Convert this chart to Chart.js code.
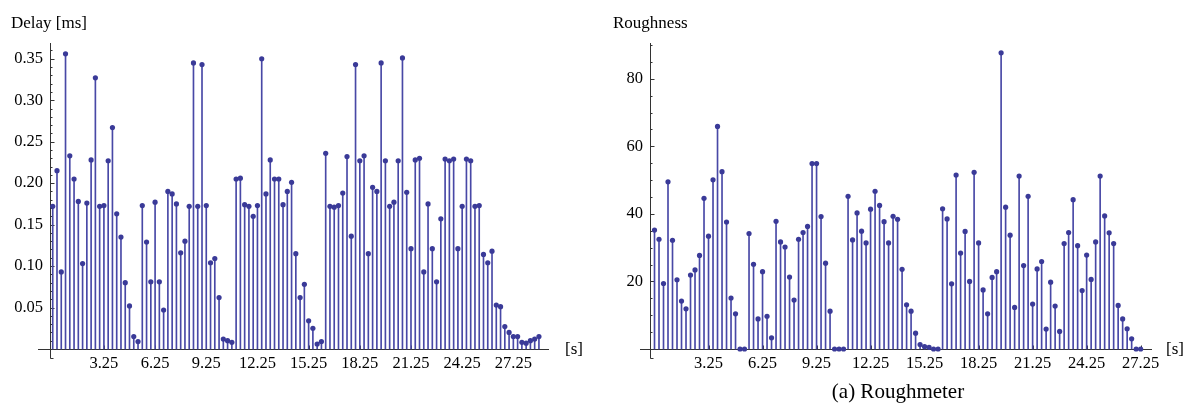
<!DOCTYPE html>
<html>
<head>
<meta charset="utf-8">
<script src="https://cdn.jsdelivr.net/npm/chart.js@4.4.0/dist/chart.umd.min.js"></script>
<style>
  body { margin: 0; background: #fff; width: 1184px; height: 403px; position: relative; overflow: hidden; font-family: "Liberation Serif", serif; color: #000; }
  .box { position: absolute; top: 0; width: 592px; height: 380px; }
  .txt { position: absolute; font-size: 17px; line-height: 1; white-space: nowrap; }
</style>
</head>
<body>
<div class="box" style="left:0"><canvas id="delay" width="592" height="380"></canvas></div>
<div class="box" style="left:592px"><canvas id="rough" width="592" height="380"></canvas></div>
<div class="txt" style="left:11px;top:14px">Delay [ms]</div>
<div class="txt" style="left:613px;top:14px">Roughness</div>
<div class="txt" style="left:565px;top:340px">[s]</div>
<div class="txt" style="left:1166px;top:340px">[s]</div>
<div class="txt" style="left:898px;top:381px;font-size:21px;transform:translateX(-50%)">(a) Roughmeter</div>
<script>
// samples every 0.25 s
const step = 0.25;

const delayValues = [
  0.172, 0.215, 0.093, 0.356, 0.233, 0.205, 0.178, 0.103, 0.176, 0.228,
  0.327, 0.172, 0.173, 0.227, 0.267, 0.163, 0.135, 0.080, 0.052, 0.015,
  0.009, 0.173, 0.129, 0.081, 0.177, 0.081, 0.047, 0.190, 0.187, 0.175,
  0.116, 0.130, 0.172, 0.345, 0.172, 0.343, 0.173, 0.104, 0.109, 0.062,
  0.012, 0.010, 0.008, 0.205, 0.206, 0.174, 0.172, 0.160, 0.173, 0.350,
  0.187, 0.228, 0.205, 0.205, 0.174, 0.190, 0.201, 0.115, 0.062, 0.078,
  0.034, 0.025, 0.006, 0.009, 0.236, 0.172, 0.171, 0.173, 0.188, 0.232,
  0.136, 0.343, 0.227, 0.233, 0.115, 0.195, 0.190, 0.345, 0.227, 0.172,
  0.177, 0.227, 0.351, 0.189, 0.121, 0.228, 0.230, 0.093, 0.175, 0.121,
  0.081, 0.157, 0.229, 0.227, 0.229, 0.121, 0.172, 0.229, 0.227, 0.172,
  0.173, 0.114, 0.104, 0.118, 0.053, 0.051, 0.027, 0.020, 0.015, 0.015,
  0.008, 0.007, 0.010, 0.012, 0.015
];

const roughValues = [
  35.2, 32.5, 19.4, 49.5, 32.2, 20.5, 14.2, 11.9, 21.9, 23.4,
  27.7, 44.6, 33.4, 50.1, 65.9, 52.5, 37.6, 15.1, 10.4, 0,
  0, 34.2, 25.1, 8.9, 22.9, 9.7, 3.3, 37.8, 31.7, 30.2,
  21.3, 14.5, 32.5, 34.5, 36.3, 54.9, 54.9, 39.2, 25.4, 11.2,
  0, 0, 0, 45.2, 32.3, 40.3, 34.9, 31.4, 41.4, 46.7,
  42.5, 37.7, 31.4, 39.3, 38.4, 23.6, 13.1, 11.2, 4.7, 1.3,
  0.7, 0.5, 0, 0, 41.5, 38.5, 19.3, 51.5, 28.4, 34.8,
  20.0, 52.3, 31.4, 17.5, 10.4, 21.2, 22.9, 87.7, 42.0, 33.7,
  12.3, 51.2, 24.7, 45.2, 13.3, 23.7, 25.9, 5.9, 19.8, 12.7,
  5.2, 31.2, 34.5, 44.2, 30.6, 17.3, 27.8, 20.6, 31.7, 51.2,
  39.4, 34.4, 31.2, 12.9, 8.9, 6.0, 3.0, 0, 0
];

const timeTicks = [3.25, 6.25, 9.25, 12.25, 15.25, 18.25, 21.25, 24.25, 27.25];
const delayTicks = [0.05, 0.10, 0.15, 0.20, 0.25, 0.30, 0.35];
const roughTicks = [20, 40, 60, 80];

const stemColor = '#4848a6';
const dotColor = '#3a3a98';
const font = { family: '"Liberation Serif", serif', size: 16.5 };

// axes through the origin, ticks pointing inwards (Mathematica style)
const axesPlugin = {
  id: 'axes',
  beforeDatasetsDraw(chart, args, o) {
    const { ctx, chartArea: a, scales: { x, y } } = chart;
    const ox = Math.round(a.left) + 0.5;
    const oy = Math.round(y.getPixelForValue(0)) + 0.5;
    ctx.save();
    ctx.strokeStyle = '#333';
    ctx.lineWidth = 1;
    ctx.beginPath();
    ctx.moveTo(a.left - o.leftExtra, oy); ctx.lineTo(a.right, oy);
    ctx.moveTo(ox, a.top); ctx.lineTo(ox, oy + 9);
    for (let v = o.minorStep; v < y.max; v += o.minorStep) {
      const p = Math.round(y.getPixelForValue(v)) + 0.5;
      const major = o.yTicks.some(t => Math.abs(t - v) < o.minorStep / 10);
      ctx.moveTo(ox, p); ctx.lineTo(ox + (major ? 4 : 2), p);
    }
    timeTicks.forEach(t => {
      const p = Math.round(x.getPixelForValue(t)) + 0.5;
      ctx.moveTo(p, oy); ctx.lineTo(p, oy - 4);
    });
    ctx.moveTo(ox, oy + 9); ctx.lineTo(ox + 3, oy + 9);
    ctx.stroke();
    ctx.restore();
  }
};

function stemChart(id, values, cfg) {
  const pts = values.map((v, i) => ({ x: (i + 1) * step, y: v }));
  return new Chart(document.getElementById(id), {
    type: 'bar',
    data: {
      datasets: [
        { type: 'scatter', data: pts, pointRadius: 2.6, pointHoverRadius: 2.6, borderWidth: 0,
          backgroundColor: dotColor, clip: false, order: 0 },
        { type: 'bar', data: pts, barThickness: 1, backgroundColor: stemColor, clip: false, order: 1 }
      ]
    },
    options: {
      responsive: false,
      animation: false,
      devicePixelRatio: 1,
      layout: { padding: { top: 43, right: cfg.padRight, left: 0, bottom: 0 } },
      plugins: {
        legend: { display: false },
        tooltip: { enabled: false },
        axes: { minorStep: cfg.minorStep, yTicks: cfg.yTicks, leftExtra: cfg.leftExtra }
      },
      scales: {
        x: {
          type: 'linear', offset: false, min: cfg.xMin, max: cfg.xMax,
          grid: { display: false, drawTicks: false, tickLength: 0 }, border: { display: false },
          afterBuildTicks: s => { s.ticks = timeTicks.map(v => ({ value: v })); },
          afterFit: s => { s.height = 31; },
          ticks: { autoSkip: false, maxRotation: 0, padding: 5, color: '#000', font,
                   callback: v => v.toFixed(2) }
        },
        y: {
          type: 'linear', min: 0, max: cfg.yMax,
          grid: { display: false, drawTicks: false, tickLength: 0 }, border: { display: false },
          afterBuildTicks: s => { s.ticks = cfg.yTicks.map(v => ({ value: v })); },
          afterFit: s => { s.width = cfg.yWidth; },
          ticks: { padding: 7, color: '#000', font, callback: cfg.fmt }
        }
      }
    },
    plugins: [axesPlugin]
  });
}

stemChart('delay', delayValues, {
  xMin: 0.09, xMax: 29.34, yMax: 0.369, yWidth: 50, padRight: 43, leftExtra: 12,
  minorStep: 0.01, yTicks: delayTicks, fmt: v => v.toFixed(2)
});

stemChart('rough', roughValues, {
  xMin: 0.0, xMax: 27.88, yMax: 90.6, yWidth: 58, padRight: 32, leftExtra: 10,
  minorStep: 5, yTicks: roughTicks, fmt: v => String(v)
});
</script>
</body>
</html>
